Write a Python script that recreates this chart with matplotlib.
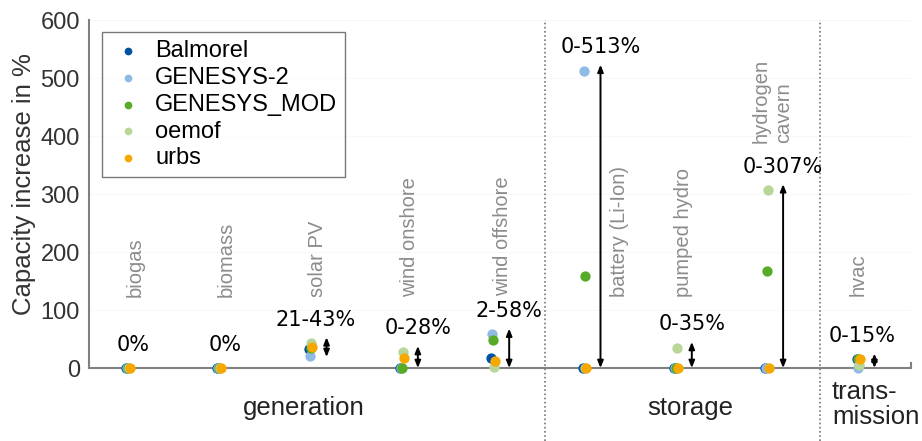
import numpy as np
import matplotlib
matplotlib.use('Agg')
import matplotlib.pyplot as plt

# technologies and model results (capacity increase in %)
techs = ['biogas', 'biomass', 'solar PV', 'wind onshore', 'wind offshore',
         'battery (Li-Ion)', 'pumped hydro', 'hydrogen\ncavern', 'hvac']
models = ['Balmorel', 'GENESYS-2', 'GENESYS_MOD', 'oemof', 'urbs']
colors = ['#00549F', '#8EBAE5', '#57AB27', '#B8D698', '#F6A800']

balmorel    = [0, 0, 33, 0, 18, 0, 0, 0, 15]
genesys2    = [0, 0, 21, 0, 58, 513, 0, 0, 0]
genesys_mod = [0, 0, 34, 0, 48, 158, 0, 167, 15]
oemof       = [0, 0, 43, 28, 2, 0, 35, 307, 5]
urbs        = [0, 0, 36, 17, 12, 0, 0, 0, 15]
range_labels = ['0%', '0%', '21-43%', '0-28%', '2-58%', '0-513%', '0-35%', '0-307%', '0-15%']

groups = ['generation', 'storage', 'trans-\nmission']

values = np.array([balmorel, genesys2, genesys_mod, oemof, urbs])
x = np.arange(1, len(techs) + 1)

# layout of the rotated technology names (shift in x, bottom in y)
name_dx = [0.08, 0.08, 0.08, 0.08, 0.1, 0.38, 0.08, 0.06, 0.0]
name_y  = [122, 122, 122, 122, 125, 122, 122, 388, 125]
label_dx = [0.06, 0.06, 0.05, 0.175, 0.175, 0.175, 0.175, 0.175, 0.04]

fig = plt.figure(figsize=(9.22, 4.41), dpi=100)
ax = fig.add_axes([0.0965, 0.1655, 0.892, 0.789])
arial = 'Liberation Sans'

ax.set_ylim(0, 600)
ax.set_xlim(0.573, 9.58)
ax.set_yticks(np.arange(0, 601, 100))
ax.set_xticks([])
ax.tick_params(axis='y', length=0, pad=6.5, labelsize=17, labelcolor='#333333')
for lab in ax.get_yticklabels():
    lab.set_family(arial)
ax.grid(axis='y', color='#f8f8f8', lw=0.8)
ax.set_axisbelow(True)
ax.spines['top'].set_visible(False)
for s in ['left', 'bottom', 'right']:
    ax.spines[s].set_color('#808080')
    ax.spines[s].set_linewidth(1.5)
ax.spines['right'].set_bounds(0, 9)
ax.set_ylabel('Capacity increase in %', fontsize=18.5, family=arial, color='#333333')
ax.yaxis.set_label_coords(-0.064, 0.529)

# scatter of model results
for i, m in enumerate(models):
    ax.scatter(x + (i - 2) * 0.01, values[i], s=55, color=colors[i], label=m,
               zorder=3 + i, linewidths=0, clip_on=False)

# ranges as arrows + labels
for j in range(len(techs)):
    lo = values[:, j].min()
    hi = values[:, j].max()
    ax_x = x[j] + 0.175
    if hi > lo:
        ax.annotate('', xy=(ax_x, hi + 10), xytext=(ax_x, max(lo - 2, 0)),
                    arrowprops=dict(arrowstyle='<|-|>,head_length=0.42,head_width=0.17',
                                    mutation_scale=10, color='black', lw=1.4,
                                    shrinkA=0, shrinkB=0),
                    zorder=10)
    ax.text(x[j] + label_dx[j], hi + 23, range_labels[j], ha='center', va='bottom',
            fontsize=15, family='DejaVu Sans', color='black', zorder=11)

# technology names
for j, t in enumerate(techs):
    ax.text(x[j] + name_dx[j], name_y[j], t, rotation=90, ha='center', va='bottom',
            fontsize=14.5, family=arial, color='#8c8c8c', multialignment='left')

# separators
for sx in [5.57, 8.58]:
    ax.axvline(sx, ymin=-0.21, ymax=1.0, color='#777777', ls=(0, (1, 1.5)), lw=1.2,
               clip_on=False)

# group labels
trans = ax.get_xaxis_transform()
ax.text(2.92, -0.115, groups[0], transform=trans, ha='center', va='center',
        fontsize=18.5, family=arial, color='#222222')
ax.text(7.16, -0.115, groups[1], transform=trans, ha='center', va='center',
        fontsize=18.5, family=arial, color='#222222')
ax.text(8.71, -0.105, groups[2], transform=trans, ha='left', va='center',
        fontsize=18.5, family=arial, color='#222222', linespacing=1.05)

leg = ax.legend(loc='upper left', bbox_to_anchor=(0.0158, 0.9655), borderaxespad=0,
                prop={'family': arial, 'size': 17}, frameon=True, fancybox=False,
                edgecolor='#555555', handletextpad=0.4, labelspacing=0.2,
                markerscale=0.75, borderpad=0.35, handlelength=1.5)
leg.get_frame().set_linewidth(1.0)

fig.savefig('out.png', dpi=100)
